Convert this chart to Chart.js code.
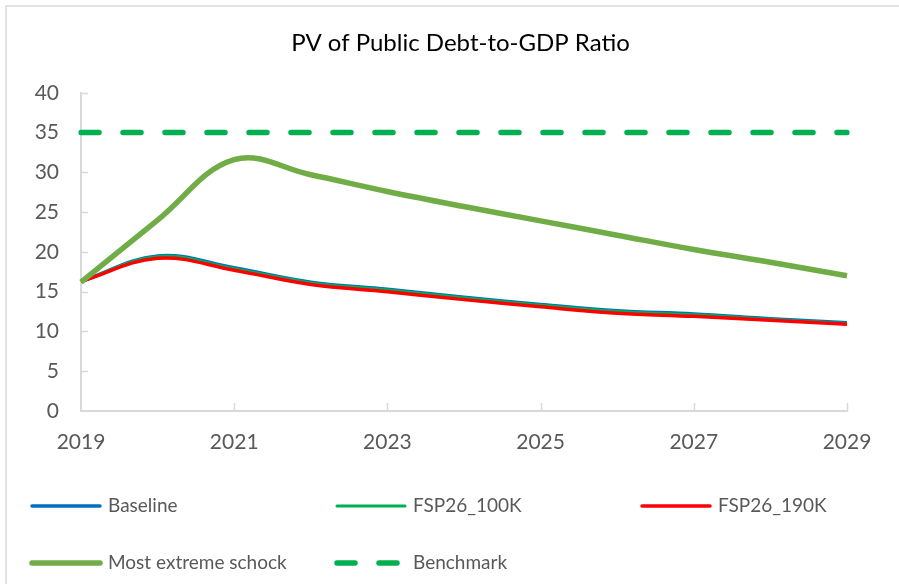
<!DOCTYPE html>
<html>
<head>
<meta charset="utf-8">
<script src="https://cdn.jsdelivr.net/npm/chart.js@4.4.0/dist/chart.umd.min.js"></script>
<style>
  html, body { margin: 0; padding: 0; background: #fff; }
  #wrap { position: relative; width: 899px; height: 584px; }
</style>
</head>
<body>
<div id="wrap"><canvas id="chart1" width="899" height="584"></canvas></div>
<script>
// data
const years = ['2019', '2020', '2021', '2022', '2023', '2024', '2025', '2026', '2027', '2028', '2029'];
const baseline = [16.3, 19.5, 18.0, 16.2, 15.3, 14.3, 13.4, 12.6, 12.2, 11.6, 11.1];
const fsp100k = [16.3, 19.4, 17.9, 16.1, 15.2, 14.2, 13.3, 12.5, 12.1, 11.5, 11.0];
const fsp190k = [16.3, 19.2, 17.7, 15.9, 15.0, 14.0, 13.1, 12.3, 11.9, 11.4, 10.9];
const extreme = [16.2, 24.0, 31.6, 29.7, 27.6, 25.7, 23.9, 22.1, 20.3, 18.7, 17.0];
const benchmark = [35, 35, 35, 35, 35, 35, 35, 35, 35, 35, 35];

const FONT = 'Lato, "Liberation Sans", sans-serif';
const GREY = '#595959';
const AXIS = '#d9d9d9';

// outer frame, inward tick marks and the grid legend
const frame = {
    id: 'frame',
    beforeDraw(chart) {
        const c = chart.ctx;
        c.save();
        c.strokeStyle = AXIS;
        c.lineWidth = 1.5;
        c.beginPath();
        c.moveTo(6, 600);
        c.lineTo(6, 6);
        c.lineTo(905, 6);
        c.stroke();
        c.restore();
    },
    beforeDatasetsDraw(chart) {
        const c = chart.ctx;
        const x = chart.scales.x, y = chart.scales.y;
        c.save();
        c.strokeStyle = AXIS;
        c.lineWidth = 1.5;
        c.beginPath();
        for (let v = 5; v <= 40; v += 5) {
            const py = Math.round(y.getPixelForValue(v)) + 0.5;
            c.moveTo(x.left, py);
            c.lineTo(x.left + 7, py);
        }
        for (let i = 2; i < years.length; i += 2) {
            const px = Math.round(x.getPixelForValue(i)) + 0.5;
            c.moveTo(px, y.bottom);
            c.lineTo(px, y.bottom - 8);
        }
        c.stroke();
        c.restore();
    },
    afterDraw(chart) {
        const c = chart.ctx;
        const cols = [30, 335, 640];
        const rows = [506, 563];
        c.save();
        c.font = '19px ' + FONT;
        c.fillStyle = GREY;
        c.textBaseline = 'middle';
        chart.data.datasets.forEach((ds, i) => {
            const lx = cols[i % 3];
            const ly = rows[Math.floor(i / 3)];
            c.beginPath();
            c.strokeStyle = ds.borderColor;
            c.lineWidth = ds.legendWidth;
            c.lineCap = 'round';
            c.setLineDash(ds.borderDash || []);
            c.moveTo(lx + 2, ly);
            c.lineTo(lx + 70, ly);
            c.stroke();
            c.setLineDash([]);
            c.fillText(ds.label, lx + 78, ly);
        });
        c.restore();
    }
};

const data = {
    labels: years,
    datasets: [
        {
            label: 'Baseline',
            data: baseline,
            borderColor: '#0070C0',
            borderWidth: 3.5,
            legendWidth: 3.5,
            order: 5
        },
        {
            label: 'FSP26_100K',
            data: fsp100k,
            borderColor: '#00B050',
            borderWidth: 3,
            legendWidth: 3,
            order: 4
        },
        {
            label: 'FSP26_190K',
            data: fsp190k,
            borderColor: '#FF0000',
            borderWidth: 3.5,
            legendWidth: 3.5,
            order: 3
        },
        {
            label: 'Most extreme schock',
            data: extreme,
            borderColor: '#70AD47',
            borderWidth: 5.5,
            legendWidth: 5.5,
            order: 2
        },
        {
            label: 'Benchmark',
            data: benchmark,
            borderColor: '#00B050',
            borderWidth: 5.5,
            legendWidth: 5.5,
            borderDash: [18, 24],
            borderCapStyle: 'round',
            tension: 0,
            order: 1
        }
    ]
};

const options = {
    responsive: false,
    animation: false,
    layout: { padding: { left: 22, right: 0, top: 6, bottom: 133 } },
    elements: {
        point: { radius: 0 },
        line: { tension: 0.38, borderCapStyle: 'butt', borderJoinStyle: 'round' }
    },
    plugins: {
        legend: { display: false },
        tooltip: { enabled: false },
        title: {
            display: true,
            text: 'PV of Public Debt-to-GDP Ratio',
            color: '#000',
            font: { family: FONT, size: 24, weight: 'normal' },
            padding: { top: 23, bottom: 35 }
        }
    },
    scales: {
        x: {
            type: 'category',
            offset: false,
            grid: { display: true, drawOnChartArea: false, drawTicks: false },
            border: { color: AXIS, width: 2 },
            afterFit(scale) { scale.height = 40; },
            ticks: {
                autoSkip: false,
                maxRotation: 0,
                padding: 19,
                color: GREY,
                font: { family: FONT, size: 21 },
                callback(v, i) { return i % 2 === 0 ? years[i] : ''; }
            }
        },
        y: {
            min: 0,
            max: 40,
            grid: { display: true, drawOnChartArea: false, drawTicks: false },
            border: { color: AXIS, width: 2 },
            afterFit(scale) { scale.width = 59; },
            ticks: {
                stepSize: 5,
                padding: 22,
                color: GREY,
                font: { family: FONT, size: 21 }
            }
        },
        // empty right-hand axis, only to keep room on the right
        yr: {
            position: 'right',
            min: 0,
            max: 40,
            grid: { display: false },
            border: { display: false },
            ticks: { display: false },
            afterFit(scale) { scale.width = 52; }
        }
    }
};

const ctx = document.getElementById('chart1').getContext('2d');
const myChart = new Chart(ctx, {
    type: 'line',
    data: data,
    options: options,
    plugins: [frame]
});
</script>
</body>
</html>
